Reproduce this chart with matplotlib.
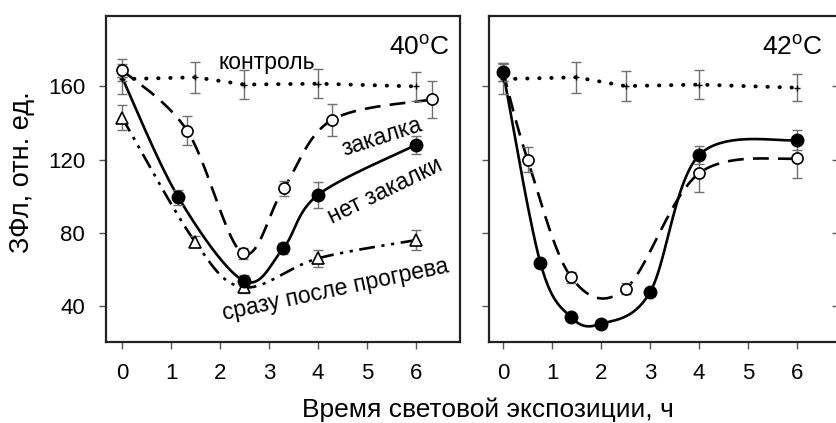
import numpy as np
import matplotlib
matplotlib.use("Agg")
import matplotlib.pyplot as plt

plt.rcParams["font.family"] = ["Liberation Sans", "DejaVu Sans"]

# 40 C panel
t40_ctrl = [0, 1.5, 2.5, 4.0, 6.0]
ctrl40 = [164, 165, 161, 161.5, 160]
ctrl40_err = [8, 8.5, 8, 8, 7.7]

t40_hard = [0, 1.33, 2.46, 3.3, 4.28, 6.32]
hard40 = [169, 135.8, 68.8, 104.3, 141.6, 152.9]
hard40_err = [6, 8, 3, 4, 8.7, 10]

t40_none = [0, 1.15, 2.49, 3.29, 4.0, 6.0]
none40 = [165, 99.4, 53.7, 71.5, 100.7, 128]
none40_err = [0, 4, 3, 3, 7, 5]

t40_heat = [0, 1.49, 2.49, 4.0, 6.0]
heat40 = [143, 75.1, 50.2, 66, 76]
heat40_err = [7, 3, 3, 4.6, 5.5]

# 42 C panel
t42_ctrl = [0, 1.49, 2.5, 4.0, 6.0]
ctrl42 = [164, 165, 160.2, 161, 159.3]
ctrl42_err = [8, 8.5, 8, 8, 7.3]

t42_none = [0, 0.76, 1.39, 2.0, 3.0, 4.0, 6.0]
none42 = [168, 63.7, 33.8, 30.2, 47.5, 122.4, 130.7]
none42_err = [5, 2, 2, 2, 2, 5, 5.5]

t42_hard = [0, 0.5, 1.39, 2.5, 4.0, 6.0]
hard42 = [168, 120, 55.7, 49.3, 112.5, 120.7]
hard42_err = [5, 6.7, 3, 3, 10, 10.5]

xticks = [0, 1, 2, 3, 4, 5, 6]
yticks = [40, 80, 120, 160]


def smooth(x, y, n=40):
    # Catmull-Rom curve through the points (drawing only)
    P = np.column_stack([x, y]).astype(float)
    P = np.vstack([P[0], P, P[-1]])
    out = []
    t = np.linspace(0, 1, n)[:, None]
    for i in range(1, len(P) - 2):
        p0, p1, p2, p3 = P[i - 1], P[i], P[i + 1], P[i + 2]
        m1 = 0.5 * (p2 - p0)
        m2 = 0.5 * (p3 - p1)
        h00 = 2 * t**3 - 3 * t**2 + 1
        h10 = t**3 - 2 * t**2 + t
        h01 = -2 * t**3 + 3 * t**2
        h11 = t**3 - t**2
        out.append(h00 * p1 + h10 * m1 + h01 * p2 + h11 * m2)
    c = np.vstack(out)
    return c[:, 0], c[:, 1]


W, H = 836, 423
fig = plt.figure(figsize=(W / 100, H / 100), dpi=100)
ax1 = fig.add_axes([106 / W, 1 - 342 / H, (460 - 106) / W, (342 - 16) / H])
ax2 = fig.add_axes([489 / W, 1 - 342 / H, (846 - 489) / W, (342 - 16) / H])
ax3 = fig.add_axes([839 / W, 1 - 342 / H, 0.3, (342 - 16) / H])

ecol = "#707070"


def series(ax, x, y, err, ls, marker, face, ms, skip_first=False):
    xs, ys = smooth(x, y)
    ax.plot(xs, ys, color="black", linestyle=ls, lw=1.9, zorder=2)
    ax.errorbar(x, y, yerr=err, fmt="none", ecolor=ecol, elinewidth=1.0,
                capsize=3.5, capthick=1.0, zorder=3)
    xm, ym = (x[1:], y[1:]) if skip_first else (x, y)
    ax.plot(xm, ym, linestyle="none", marker=marker, ms=ms, mfc=face,
            mec="black", mew=1.2, zorder=4)


def control(ax, x, y, err):
    ax.plot(x, y, color="black", linestyle=(0, (0.1, 3.0)), lw=2.8,
            dash_capstyle="round", zorder=2)
    ax.errorbar(x, y, yerr=err, fmt="+", color="black", ms=4, ecolor=ecol,
                elinewidth=1.0, capsize=3.5, capthick=1.0, zorder=3)


dash = (0, (6, 3.5))
dashdot = (0, (6, 2.5, 1.2, 2.5, 1.2, 2.5))

# 40 C
control(ax1, t40_ctrl, ctrl40, ctrl40_err)
series(ax1, t40_heat, heat40, heat40_err, dashdot, "^", "white", 8.5)
series(ax1, t40_none, none40, none40_err, "-", "o", "black", 8.8, skip_first=True)
series(ax1, t40_hard, hard40, hard40_err, dash, "o", "white", 8)

# 42 C
control(ax2, t42_ctrl, ctrl42, ctrl42_err)
series(ax2, t42_hard, hard42, hard42_err, dash, "o", "white", 8)
series(ax2, t42_none, none42, none42_err, "-", "o", "black", 8.8)

for ax, xl in [(ax1, (-0.327, 6.9)), (ax2, (-0.287, 7.0))]:
    ax.set_xlim(*xl)
    ax.set_ylim(20.3, 198.5)
    ax.set_xticks(xticks)
    ax.set_yticks(yticks)
    ax.tick_params(direction="out", length=5, width=1, labelsize=16, pad=10,
                   color="#555555")
    for s in ax.spines.values():
        s.set_linewidth(1.6)
        s.set_color("#222222")
ax2.spines["right"].set_visible(False)
ax2.set_yticklabels([])

ax3.set_ylim(20.3, 198.5)
ax3.set_yticks(yticks)
ax3.set_yticklabels([])
ax3.set_xticks([])
ax3.tick_params(direction="out", length=5, width=1, color="#555555")
for s in ax3.spines.values():
    s.set_visible(False)

fig.text(22 / W, 1 - 172 / H, "ЗФл, отн. ед.", fontsize=19.5, rotation=90,
         ha="center", va="center")
fig.text(488 / W, 1 - 410 / H, "Время световой экспозиции, ч", fontsize=19,
         ha="center", va="center")

ax1.text(0.97, 0.94, "40$^\\mathregular{o}$C", transform=ax1.transAxes,
         fontsize=19, ha="right", va="top")
ax2.text(334 / 357, 0.94, "42$^\\mathregular{o}$C", transform=ax2.transAxes,
         fontsize=19, ha="right", va="top")

ax1.text(2.96, 173.3, "контроль", fontsize=16.5, ha="center", va="center")
ax1.text(5.31, 132.3, "закалка", fontsize=16.5, ha="center", va="center", rotation=18)
ax1.text(5.37, 102.8, "нет закалки", fontsize=16.5, ha="center", va="center",
         rotation=26)
ax1.text(4.35, 48.7, "сразу после прогрева", fontsize=16.5, ha="center",
         va="center", rotation=12)

fig.savefig("out.png", dpi=100)
